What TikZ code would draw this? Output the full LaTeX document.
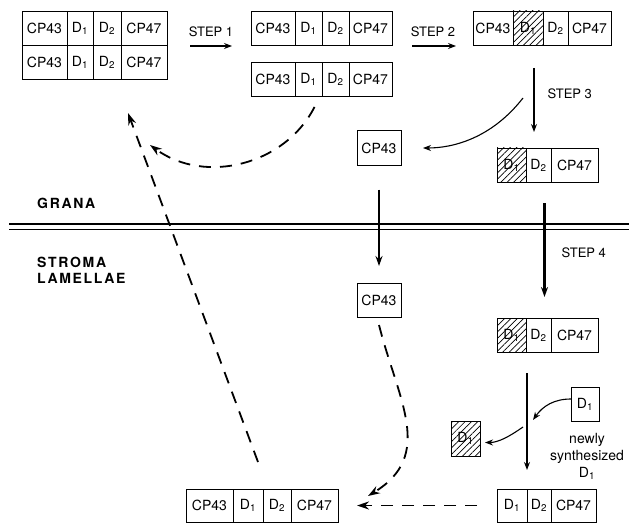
\documentclass[tikz,border=0pt]{standalone}
\usepackage{fontspec}
\setmainfont{TeX Gyre Heros}
\newfontfamily\spacedfont[LetterSpace=12]{TeX Gyre Heros}
\usetikzlibrary{arrows.meta,positioning,patterns.meta}
\tikzset{
  >={Stealth[length=8pt,width=6pt]},
  cell/.style={draw,line width=0.8pt,outer sep=0pt,inner sep=0pt,
    minimum height=34pt,font=\fontsize{14}{16}\selectfont},
  hatched/.style={pattern={Lines[angle=45,distance=4.5pt,line width=0.7pt]}},
  thin flow/.style={->,line width=1.1pt},
  heavy flow/.style={-{Stealth[length=10pt,width=7pt]},line width=2.4pt},
  return flow/.style={-{Stealth[length=12pt,width=8pt]},line width=1.8pt,
    dash pattern=on 12pt off 9pt},
  steplabel/.style={font=\fontsize{13}{15}\selectfont},
  region/.style={font=\spacedfont\bfseries\fontsize{14}{16}\selectfont,
    align=left,inner sep=0pt},
  note/.style={font=\fontsize{14}{17}\selectfont,align=center,inner sep=0pt},
  membrane/.style={line width=1.2pt},
}

\begin{document}
\begin{tikzpicture}[x=1pt,y=1pt]
  \useasboundingbox (0,0) rectangle (629,-524);

  % grana / stroma boundary
  \draw[membrane] (9,-224) -- (629,-224);
  \draw[membrane,line width=0.8pt] (9,-229) -- (629,-229);
  \node[region,anchor=west] (grana) at (37,-203) {GRANA};
  \node[region,anchor=west] (stroma) at (37,-270) {STROMA\\LAMELLAE};

  % dimer in the grana
  \foreach \r/\y in {p/-11,q/-45}{
    \node[cell,minimum width=45pt,anchor=north west] (\r1) at (22,\y) {CP43};
    \node[cell,minimum width=26pt,right=0pt of \r1] (\r2) {D\textsubscript{1}};
    \node[cell,minimum width=28pt,right=0pt of \r2] (\r3) {D\textsubscript{2}};
    \node[cell,minimum width=46pt,right=0pt of \r3] (\r4) {CP47};
  }

  % step 1: two monomers
  \node[steplabel] (step1) at (211,-32) {STEP 1};
  \coordinate (s1a) at (190,-46);
  \coordinate (s1b) at (232,-46);
  \draw[thin flow] (s1a) -- (s1b);
  \foreach \r/\y in {a/-11,b/-62}{
    \node[cell,minimum width=44pt,anchor=north west] (\r1) at (251,\y) {CP43};
    \node[cell,minimum width=27pt,right=0pt of \r1] (\r2) {D\textsubscript{1}};
    \node[cell,minimum width=27pt,right=0pt of \r2] (\r3) {D\textsubscript{2}};
    \node[cell,minimum width=43pt,right=0pt of \r3] (\r4) {CP47};
  }

  % step 2: damaged D1
  \node[steplabel] (step2) at (433,-32) {STEP 2};
  \coordinate (s2a) at (412,-46);
  \coordinate (s2b) at (456,-46);
  \draw[thin flow] (s2a) -- (s2b);
  \node[cell,minimum width=40pt,anchor=north west] (c1) at (473,-11) {CP43};
  \node[cell,hatched,minimum width=30pt,right=0pt of c1] (c2) {D\textsubscript{1}};
  \node[cell,minimum width=25pt,right=0pt of c2] (c3) {D\textsubscript{2}};
  \node[cell,minimum width=43pt,right=0pt of c3] (c4) {CP47};

  % step 3: CP43 leaves
  \coordinate (s3a) at (534,-68);
  \coordinate (s3b) at (534,-132);
  \draw[thin flow] (s3a) -- (s3b);
  \node[steplabel,anchor=west] (step3) at (544,-94) {STEP 3};
  \node[cell,minimum width=44pt,minimum height=35pt] (u) at (379,-148) {CP43};
  \coordinate (s3c) at (523,-98);
  \draw[thin flow,shorten >=22pt] (s3c) to[out=-128,in=0] (u.east);
  \node[cell,hatched,minimum width=29pt,anchor=north west] (r1) at (497,-148) {D\textsubscript{1}};
  \node[cell,minimum width=25pt,right=0pt of r1] (r2) {D\textsubscript{2}};
  \node[cell,minimum width=47pt,right=0pt of r2] (r3) {CP47};

  % step 4: migration to the stroma lamellae
  \node[cell,minimum width=44pt,minimum height=34pt] (l) at (379,-300) {CP43};
  \draw[heavy flow] ([yshift=-24pt]u.south) -- ([yshift=17pt]l.north);
  \node[cell,hatched,minimum width=29pt,anchor=north west] (m1) at (497,-318) {D\textsubscript{1}};
  \node[cell,minimum width=25pt,right=0pt of m1] (m2) {D\textsubscript{2}};
  \node[cell,minimum width=47pt,right=0pt of m2] (m3) {CP47};
  \draw[heavy flow] ([xshift=6pt,yshift=-21pt]r2.south) -- ([xshift=6pt,yshift=21pt]m2.north);
  \node[steplabel,anchor=west] (step4) at (558,-253) {STEP 4};

  % D1 exchange
  \node[cell,minimum width=30pt,minimum height=33pt,anchor=north west] (w1) at (497,-489) {D\textsubscript{1}};
  \node[cell,minimum width=24pt,minimum height=33pt,right=0pt of w1] (w2) {D\textsubscript{2}};
  \node[cell,minimum width=45pt,minimum height=33pt,right=0pt of w2] (w3) {CP47};
  \draw[thin flow] ([xshift=1pt,yshift=-21pt]m1.south east) -- ([yshift=19pt]w1.north east);
  \node[cell,minimum width=28pt] (nd) at (585,-404) {D\textsubscript{1}};
  \node[cell,hatched,minimum width=29pt,minimum height=35pt] (od) at (465.5,-438.5) {D\textsubscript{1}};
  \node[note] (newly) at (587,-456) {newly\\synthesized\\D\textsubscript{1}};
  \coordinate (take) at (533,-420);
  \coordinate (give) at (523,-427);
  \draw[thin flow] ([yshift=5pt]nd.west) to[out=180,in=55] (take);
  \draw[thin flow,shorten >=5pt] (give) to[out=-145,in=0] ([yshift=-4pt]od.east);

  % reassembled dimer
  \node[cell,minimum width=47pt,minimum height=33pt,anchor=north west] (z1) at (186,-489) {CP43};
  \node[cell,minimum width=30pt,minimum height=33pt,right=0pt of z1] (z2) {D\textsubscript{1}};
  \node[cell,minimum width=28pt,minimum height=33pt,right=0pt of z2] (z3) {D\textsubscript{2}};
  \node[cell,minimum width=47pt,minimum height=33pt,right=0pt of z3] (z4) {CP47};

  % return paths
  \draw[return flow,shorten <=20pt,shorten >=19pt] (w1.west) -- (z4.east);
  \draw[return flow] ([yshift=-8pt]l.south) .. controls (398,-400) and (435,-455) .. ([xshift=30pt,yshift=-7pt]z4.north east);
  \draw[return flow] ([xshift=10pt,yshift=27pt]z2.north) -- ([shift={(21pt,-34pt)}]q3.south);
  \draw[return flow] ([xshift=6pt,yshift=-11pt]b2.south) .. controls (285,-165) and (205,-185) .. ([shift={(43pt,-66pt)}]q3.south);
\end{tikzpicture}
\end{document}
